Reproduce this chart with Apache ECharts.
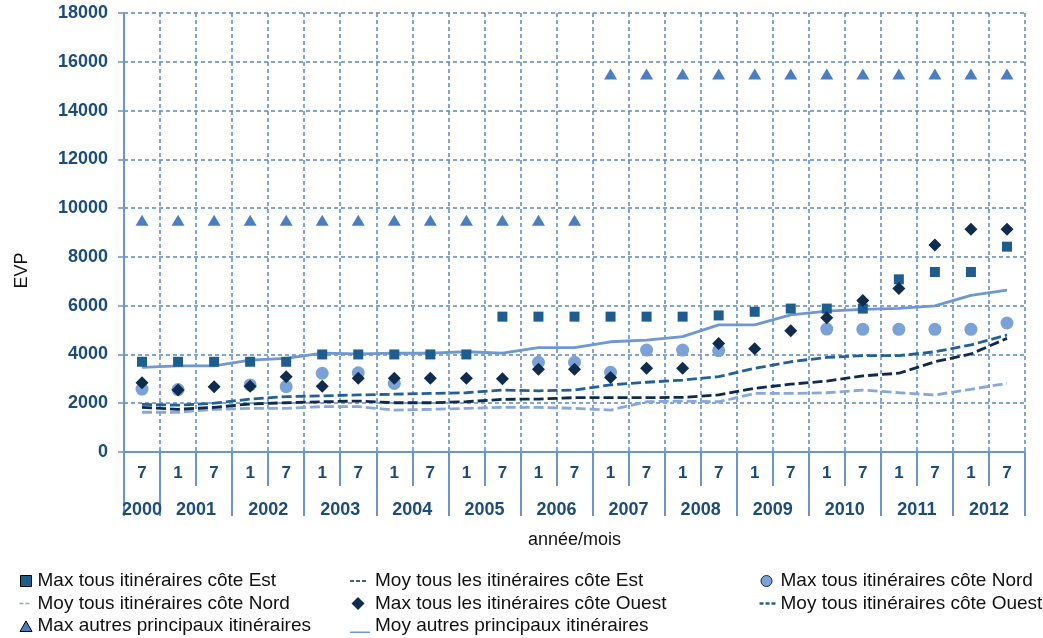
<!DOCTYPE html>
<html>
<head>
<meta charset="utf-8">
<script src="https://cdn.jsdelivr.net/npm/echarts@6/dist/echarts.min.js"></script>
<style>
  html, body { margin: 0; padding: 0; background: #ffffff; }
  #chart { width: 1043px; height: 638px; }
</style>
</head>
<body>
<div id="chart"></div>
<script>
// Period labels: month of each survey (January / July), 2000-07 to 2012-07
const months = ['7', '1', '7', '1', '7', '1', '7', '1', '7', '1', '7', '1', '7',
                '1', '7', '1', '7', '1', '7', '1', '7', '1', '7', '1', '7'];
const years = ['2000', '2001', '2002', '2003', '2004', '2005', '2006',
               '2007', '2008', '2009', '2010', '2011', '2012'];
const yTicks = [0, 2000, 4000, 6000, 8000, 10000, 12000, 14000, 16000, 18000];

// Ship sizes (EVP) per period
const maxAutres = [9500, 9500, 9500, 9500, 9500, 9500, 9500, 9500, 9500, 9500, 9500, 9500, 9500,
                   15500, 15500, 15500, 15500, 15500, 15500, 15500, 15500, 15500, 15500, 15500, 15500];
const maxEst = [3700, 3700, 3700, 3700, 3700, 4000, 4000, 4000, 4000, 4000, 5550, 5550, 5550,
                5550, 5550, 5550, 5600, 5750, 5880, 5880, 5880, 7080, 7380, 7380, 8420];
const maxNord = [2580, 2560, null, 2750, 2680, 3230, 3250, 2810, null, null, null, 3680, 3680,
                 3270, 4180, 4180, 4160, null, null, 5040, 5030, 5030, 5030, 5030, 5290];
const maxOuest = [2840, 2540, 2680, 2700, 3090, 2700, 3020, 3020, 3020, 3020, 3000, 3390, 3390,
                  3050, 3430, 3430, 4450, 4230, 4970, 5500, 6210, 6700, 8490, 9130, 9130];
const moyAutres = [3470, 3530, 3530, 3770, 3840, 4050, 4020, 4050, 4050, 4110, 4050, 4280, 4280,
                   4520, 4590, 4730, 5210, 5210, 5620, 5780, 5850, 5890, 5990, 6420, 6640];
const moyOuest = [1950, 1920, 2000, 2170, 2270, 2300, 2340, 2370, 2400, 2430, 2540, 2510, 2540,
                  2750, 2860, 2950, 3090, 3430, 3700, 3880, 3950, 3950, 4110, 4390, 4800];
const moyEst = [1830, 1750, 1830, 1970, 2020, 2060, 2090, 2020, 2020, 2060, 2160, 2170, 2230,
                2230, 2230, 2240, 2340, 2610, 2780, 2910, 3120, 3230, 3700, 4020, 4660];
const moyNord = [1630, 1630, 1750, 1790, 1790, 1860, 1860, 1720, 1750, 1790, 1830, 1830, 1790,
                 1720, 2060, 2090, 2060, 2400, 2400, 2430, 2540, 2430, 2340, 2570, 2815];

// Year row: half-step slots so each year label sits centred under its months
const yearSlots = new Array(months.length * 2 + 1).fill('');
yearSlots[1] = years[0];
for (let k = 1; k < years.length; k++) yearSlots[4 * k] = years[k];
const isYearBoundary = (i) => i === 0 || i === 2 || (i >= 6 && (i - 2) % 4 === 0);

const FONT = '"Liberation Sans", Arial, sans-serif';
const AXIS_BLUE = '#6b94d1';
const GRID_BLUE = '#5a88cc';
const LABEL_BLUE = '#1b4c7c';

const C = {
  est: '#1f5d8e',
  ouest: '#0f2b4d',
  nord: '#7ca1d7',
  autres: '#4b7ec0',
  lineAutres: '#6f97d2',
  lineOuest: '#22609c',
  lineEst: '#0e2a4c',
  lineNord: '#88a8dc'
};

const N = {
  maxEst: 'Max tous itinéraires côte Est',
  moyEst: 'Moy tous les itinéraires côte Est',
  maxNord: 'Max tous itinéraires côte Nord',
  moyNord: 'Moy tous itinéraires côte Nord',
  maxOuest: 'Max tous les itinéraires côte Ouest',
  moyOuest: 'Moy tous itinéraires côte Ouest',
  maxAutres: 'Max autres principaux itinéraires',
  moyAutres: 'Moy autres principaux itinéraires'
};

function lineSeries(name, data, color, dash) {
  return {
    name, type: 'line', data, symbol: 'none', smooth: false,
    lineStyle: { color, width: 2.8, type: dash },
    itemStyle: { color, borderWidth: 0 },
    emphasis: { disabled: true }, z: 2
  };
}
function scatterSeries(name, data, color, symbol, size) {
  return {
    name, type: 'scatter', data, symbol, symbolSize: size,
    itemStyle: { color, opacity: 1 },
    emphasis: { disabled: true }, z: 3
  };
}

const dash = (w, h, t, n) => {
  const y = (h - t) / 2;
  let p = `path://M0,0M${w},${h}`;
  for (let i = 0; i < n; i++) p += `M${i * 6},${y}h4v${t}h-4z`;
  return p;
};

const legendText = { fontFamily: FONT, fontSize: 19, color: '#111', lineHeight: 22 };
const legendCommon = {
  orient: 'vertical', itemHeight: 14, itemGap: 0.5, selectedMode: false,
  padding: 0, height: 80,
  textStyle: legendText, itemStyle: { borderWidth: 0 }, top: 570
};

const chart = echarts.init(document.getElementById('chart'), null, { renderer: 'canvas' });
chart.setOption({
  animation: false,
  backgroundColor: '#ffffff',
  grid: { left: 124, right: 18, top: 13, bottom: 186, containLabel: false, outerBoundsMode: 'none' },
  xAxis: [
    {
      type: 'category', data: months, boundaryGap: true, position: 'bottom',
      axisLine: { show: true, lineStyle: { color: AXIS_BLUE, width: 2 } },
      axisTick: { show: true, interval: 0, length: 34, lineStyle: { color: AXIS_BLUE, width: 2 } },
      axisLabel: { interval: 0, margin: 13, fontFamily: FONT, fontSize: 17, fontWeight: 'bold', color: LABEL_BLUE },
      splitLine: { show: true, interval: 0, lineStyle: { color: GRID_BLUE, width: 1.5, type: [4, 3] } }
    },
    {
      type: 'category', data: yearSlots, boundaryGap: false, position: 'bottom', offset: 0,
      axisLine: { show: false },
      axisTick: { show: true, interval: isYearBoundary, length: 64, lineStyle: { color: AXIS_BLUE, width: 2 } },
      axisLabel: { interval: 0, margin: 49, fontFamily: FONT, fontSize: 18, fontWeight: 'bold', color: LABEL_BLUE },
      splitLine: { show: false },
      name: 'année/mois', nameLocation: 'middle', nameGap: 79,
      nameTextStyle: { fontFamily: FONT, fontSize: 18, color: '#111' }
    }
  ],
  yAxis: {
    type: 'value', min: yTicks[0], max: yTicks[yTicks.length - 1], interval: 2000,
    axisLine: { show: true, lineStyle: { color: AXIS_BLUE, width: 2 } },
    axisTick: { show: true, length: 6, lineStyle: { color: AXIS_BLUE, width: 1.5 } },
    axisLabel: {
      margin: 16, fontFamily: FONT, fontSize: 18, fontWeight: 'bold', color: LABEL_BLUE,
      formatter: (v) => String(v)
    },
    splitLine: { show: true, lineStyle: { color: GRID_BLUE, width: 1.5, type: [4, 3] } },
    name: 'EVP', nameLocation: 'middle', nameGap: 93,
    nameTextStyle: { fontFamily: FONT, fontSize: 18, color: '#111', padding: [0, 76, 0, 0] }
  },
  legend: [
    Object.assign({}, legendCommon, {
      left: 19, itemWidth: 13,
      data: [
        { name: N.maxEst, icon: 'path://M0,0M13,14M1,1.5h11v11h-11z', itemStyle: { borderColor: '#000', borderWidth: 1 } },
        { name: N.moyNord, icon: dash(13, 14, 1.6, 2) },
        { name: N.maxAutres, icon: 'path://M0,0M13,14M6.5,2L12.5,12.5L0.5,12.5z', itemStyle: { borderColor: '#000', borderWidth: 1 } }
      ]
    }),
    Object.assign({}, legendCommon, {
      left: 350, itemWidth: 20,
      data: [
        { name: N.moyEst, icon: dash(20, 14, 1.5, 3) },
        { name: N.maxOuest, icon: 'path://M0,0M20,14M8,0.5L14.5,7L8,13.5L1.5,7z' },
        { name: N.moyAutres, icon: 'path://M0,0M20,14M0,12.5h20v1.5h-20z' }
      ]
    }),
    Object.assign({}, legendCommon, {
      left: 759, itemWidth: 16,
      data: [
        { name: N.maxNord, icon: 'path://M0,0M16,14M7,1.5a5.5,5.5 0 1,0 0.01,0z', itemStyle: { borderColor: '#1a2a40', borderWidth: 1 } },
        { name: N.moyOuest, icon: dash(16, 14, 2.4, 3) }
      ]
    })
  ],
  series: [
    lineSeries(N.moyNord, moyNord, C.lineNord, [10, 4]),
    lineSeries(N.moyEst, moyEst, C.lineEst, [10, 4]),
    lineSeries(N.moyOuest, moyOuest, C.lineOuest, [10, 4]),
    lineSeries(N.moyAutres, moyAutres, C.lineAutres, 'solid'),
    scatterSeries(N.maxNord, maxNord, C.nord, 'circle', 13),
    scatterSeries(N.maxAutres, maxAutres, C.autres, 'triangle', [13, 11]),
    scatterSeries(N.maxEst, maxEst, C.est, 'rect', 10),
    scatterSeries(N.maxOuest, maxOuest, C.ouest, 'diamond', 13)
  ]
});
</script>
</body>
</html>
